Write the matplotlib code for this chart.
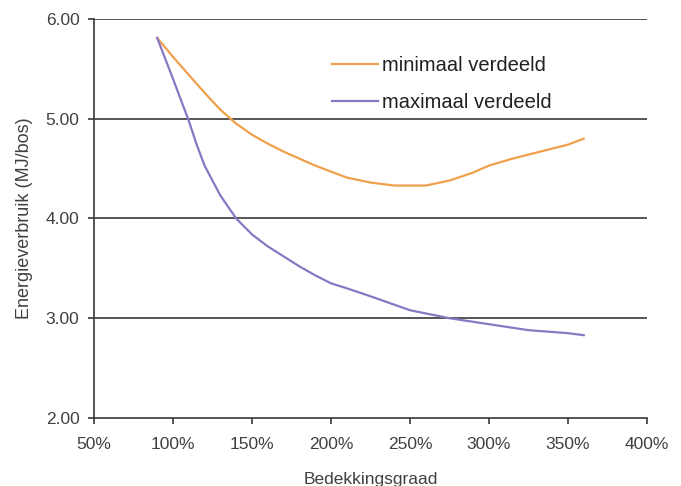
import matplotlib
matplotlib.use("Agg")
import matplotlib.pyplot as plt
from matplotlib.ticker import FuncFormatter

plt.rcParams['font.family'] = ['Liberation Sans', 'DejaVu Sans']

# Data (coverage in %, energy MJ/bos)
x_min = [90, 100, 110, 120, 130, 140, 150, 160, 170, 180, 190, 200, 210, 225,
         240, 260, 275, 290, 300, 315, 335, 350, 360]
y_min = [5.81, 5.62, 5.44, 5.26, 5.09, 4.95, 4.84, 4.75, 4.67, 4.60, 4.53, 4.47,
         4.41, 4.36, 4.33, 4.33, 4.38, 4.46, 4.53, 4.60, 4.68, 4.74, 4.80]

x_max = [90, 100, 110, 115, 120, 130, 140, 150, 160, 170, 180, 190, 200, 210, 225,
         250, 275, 300, 325, 350, 360]
y_max = [5.81, 5.40, 4.98, 4.74, 4.53, 4.23, 4.00, 3.84, 3.72, 3.62, 3.52, 3.43, 3.35,
         3.30, 3.22, 3.08, 3.00, 2.94, 2.88, 2.85, 2.83]

label_min = "minimaal verdeeld"
label_max = "maximaal verdeeld"
x_ticks = [50, 100, 150, 200, 250, 300, 350, 400]
y_ticks = [2.0, 3.0, 4.0, 5.0, 6.0]

fig = plt.figure(figsize=(6.81, 4.86), dpi=100)
ax = fig.add_axes([0.138, 0.140, 0.812, 0.821])

for y in y_ticks[1:]:
    ax.axhline(y, color='#383838', lw=1.2, zorder=1)

ax.plot(x_min, y_min, color='#F0A04B', lw=1.6, label=label_min, zorder=3)
ax.plot(x_max, y_max, color='#8878C3', lw=1.6, label=label_max, zorder=3)

ax.set_xlim(50, 400)
ax.set_ylim(2.0, 6.0)
ax.set_xticks(x_ticks)
ax.set_yticks(y_ticks)
ax.xaxis.set_major_formatter(FuncFormatter(lambda v, p: f"{v:.0f}%"))
ax.yaxis.set_major_formatter(FuncFormatter(lambda v, p: f"{v:.2f}"))

for s in ['top', 'right']:
    ax.spines[s].set_visible(False)
for s in ['left', 'bottom']:
    ax.spines[s].set_color('#383838')
    ax.spines[s].set_linewidth(1.2)

ax.tick_params(axis='both', direction='out', length=4, width=1.2, color='#383838',
               labelsize=12.5, labelcolor='#404040')
ax.tick_params(axis='x', pad=10)
ax.tick_params(axis='y', pad=6.5)

ax.set_xlabel("Bedekkingsgraad", fontsize=12.5, color='#404040', labelpad=14)
ax.set_ylabel("Energieverbruik (MJ/bos)", fontsize=13, color='#404040', labelpad=9)

leg = ax.legend(loc='upper left', bbox_to_anchor=(0.430, 0.907), frameon=False,
                fontsize=14.5, handlelength=2.3, handletextpad=0.2, labelspacing=0.9,
                borderpad=0, borderaxespad=0)
for t in leg.get_texts():
    t.set_color('#202020')

fig.savefig("out.png", dpi=100)
